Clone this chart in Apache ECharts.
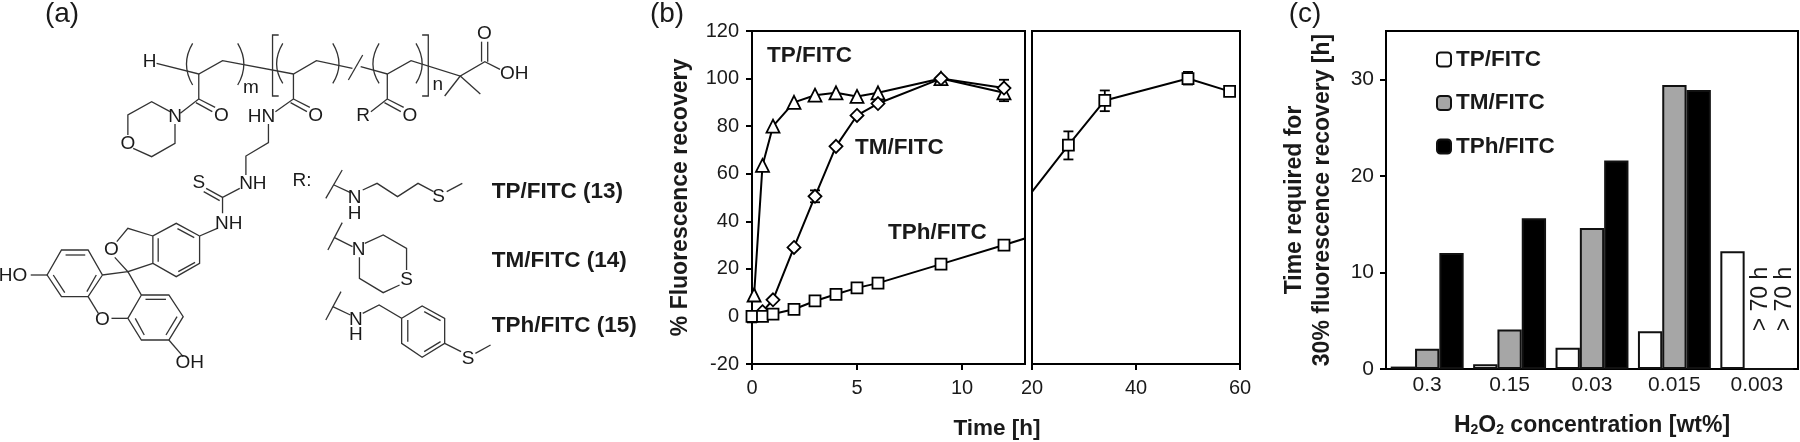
<!DOCTYPE html>
<html><head><meta charset="utf-8">
<style>html,body{margin:0;padding:0;background:#fff}#c{width:1800px;height:442px}</style>
<script src="https://cdn.jsdelivr.net/npm/echarts@6/dist/echarts.min.js"></script>
</head><body><div id="c"></div>
<script>
// ---- panel (b) data: [time h, % recovery]
const tpSeries  = [[0.1,9],[0.5,63.5],[1,80],[2,90],[3,93],[4,94],[5,92.5],[6,94],[9,100],[12,94]];
const tmSeries  = [[0.5,2],[1,7],[2,29],[3,50.5],[4,71.5],[5,84.5],[6,89.5],[9,100],[12,96]];
const tphSeries = [[0,0],[0.5,0],[1,1],[2,3],[3,6.5],[4,9.3],[5,12],[6,14],[9,22],[12,30],[27,72],[34,90.8],[50,100],[58,94.6]];
// error bars: [time, low, high]
const errLeft  = [[12,90.5,99.5],[3,48,53],[0,-2.5,2]];
const errRight = [[27,66,77.8],[34,86.3,95],[50,97.5,102.8]];
// ---- panel (c) data
const concentrations = ['0.3','0.15','0.03','0.015','0.003'];
const tpHours  = [0.25,0.5,2.2,3.9,12.2];
const tmHours  = [2.1,4.1,14.6,29.4,0];
const tphHours = [12,15.6,21.6,28.9,0];
const overLabel = '> 70 h';

const FONT = '"Liberation Sans", Arial, sans-serif';
const INK = '#1a1a1a';

// ---- panel (a) chemical structure (drawing space: x/2.44, y/3)
const bonds = [
 [[382,190],[485,222],[543,182],[716,222],[772,182],[860,205]],[[880,200],[945,222],[1003,182],[1123,228],[1183,185],[1220,208]],
 [[1175,185],[1175,125]],[[1190,185],[1190,125]],[[1123,228],[1085,288]],[[1123,228],[1172,282]],
 [[680,105],[665,105],[665,288],[680,288]],[[1030,105],[1045,105],[1045,288],[1030,288]],[[850,240],[885,165]],
 [[485,222],[485,297],[440,340]],[[485,297],[525,322]],[[478,308],[518,335]],
 [[415,335],[370,305],[312,345],[312,405]],[[325,445],[370,470],[427,430],[427,372]],
 [[716,222],[716,297],[672,335]],[[716,297],[756,322]],[[709,308],[749,335]],
 [[655,372],[655,428],[600,468],[600,525]],[[585,565],[543,592],[543,640]],[[543,592],[503,565]],[[536,602],[497,575]],[[530,685],[487,708]],
 [[945,222],[945,297],[905,335]],[[945,297],[985,322]],[[938,308],[978,335]],
 [[487,708],[430,670],[373,708],[373,790],[430,830],[487,790],[487,708]],[[433,686],[474,713]],[[386,715],[386,785]],[[435,815],[476,787]],
 [[373,708],[312,685],[285,725]],[[280,772],[312,815],[373,790]],[[312,815],[250,825],[215,750],[150,750],[115,825],[150,890],[215,890],[250,825]],
 [[115,825],[75,825]],[[215,890],[240,940]],[[272,955],[312,955]],[[312,815],[345,885],[412,885],[447,950],[412,1020],[345,1020],[312,955],[345,885]],[[412,1020],[447,1070]],
 [[160,765],[208,765]],[[130,825],[158,878]],[[235,825],[212,875]],[[355,898],[405,898]],[[432,950],[405,1005]],[[330,955],[352,1005]],
 [[795,595],[835,510]],[[815,555],[855,578]],[[885,570],[920,550],[970,590],[1020,550],[1058,575]],[[1090,575],[1128,550]],
 [[800,750],[835,668]],[[815,712],[860,740]],[[890,730],[935,705],[992,745],[992,810]],[[975,855],[935,878],[877,835],[877,772]],
 [[795,960],[832,875]],[[812,920],[855,945]],[[885,940],[925,915],[980,955],[1030,918],[1085,955],[1085,1030],[1030,1072],[980,1030],[980,955]],[[1085,1030],[1125,1055]],[[1160,1060],[1197,1035]],
 [[995,960],[995,1025]],[[1035,935],[1075,962]],[[1035,1055],[1075,1025]]
];
const parens = [[470,130,440,192,255],[580,130,610,192,255],[690,130,660,192,250],[812,130,842,192,250],[925,130,895,192,250],[1015,130,1045,192,250]];
const atoms = [['H',365,185],['m',612,262],['n',1068,255],['O',1182,100],['OH',1255,222],['O',540,348],['N',427,350],['O',312,430],
 ['HN',638,350],['O',770,348],['R',886,348],['O',1000,348],['NH',617,550],['S',485,548],['NH',558,670],['O',272,748],['HO',32,828],['O',250,960],['OH',463,1088],
 ['R:',737,543],['N',865,592],['H',865,640],['S',1070,590],['N',875,750],['S',992,838],['N',868,960],['H',868,1005],['S',1142,1075]];
const compoundLabels = [['TP/FITC (13)',1200,575],['TM/FITC (14)',1200,782],['TPh/FITC (15)',1200,977]];
const panelLetters = [['(a)',62,14],['(b)',667,14],['(c)',1305,14]];
const plotNotes = [['TP/FITC',767,56],['TM/FITC',855,148],['TPh/FITC',888,233]];

const sx = x => x/2.44, sy = y => y/3;
const g = [];
bonds.forEach(b => g.push({type:'polyline',silent:true,shape:{points:b.map(p=>[sx(p[0]),sy(p[1])])},style:{stroke:'#333',fill:null,lineWidth:1.3}}));
parens.forEach(p => g.push({type:'bezierCurve',silent:true,shape:{x1:sx(p[0]),y1:sy(p[1]),x2:sx(p[0]),y2:sy(p[4]),cpx1:sx(p[2]),cpy1:sy(p[3])},style:{stroke:'#333',fill:null,lineWidth:1.3}}));
const txt = (t,x,y,font,align) => ({type:'text',silent:true,x,y,style:{text:t,font,fill:INK,align:align||'center',verticalAlign:'middle'}});
atoms.forEach(a => g.push(txt(a[0],sx(a[1]),sy(a[2]),'19px '+FONT)));
compoundLabels.forEach(a => g.push(txt(a[0],sx(a[1]),sy(a[2]),'bold 22.5px '+FONT,'left')));
panelLetters.forEach(a => g.push(txt(a[0],a[1],a[2],'28px '+FONT)));
plotNotes.forEach(a => g.push(txt(a[0],a[1],a[2],'bold 22.5px '+FONT,'left')));
g.push(txt('Time [h]',997,429,'bold 22.5px '+FONT));

const errSeries = (name,idx,data) => ({type:'custom',name,xAxisIndex:idx,yAxisIndex:idx,z:1,clip:false,data,
  encode:{x:0,y:[1,2]},
  renderItem:(p,api)=>{
    const a=api.coord([api.value(0),api.value(1)]),b=api.coord([api.value(0),api.value(2)]);
    const st={stroke:'#000',lineWidth:1.8,fill:null},w=5;
    return {type:'group',children:[
      {type:'line',shape:{x1:a[0],y1:a[1],x2:b[0],y2:b[1]},style:st},
      {type:'line',shape:{x1:a[0]-w,y1:a[1],x2:a[0]+w,y2:a[1]},style:st},
      {type:'line',shape:{x1:b[0]-w,y1:b[1],x2:b[0]+w,y2:b[1]},style:st}]};
  }});
const lineSeries = (name,idx,data,symbol,size) => ({type:'line',name,xAxisIndex:idx,yAxisIndex:idx,data,symbol,symbolSize:size,clip:true,z:3,
  showAllSymbol:true,lineStyle:{color:'#000',width:2},itemStyle:{color:'#fff',borderColor:'#000',borderWidth:1.8,opacity:1}});
const barSeries = (name,data,color,label) => ({type:'bar',name,xAxisIndex:2,yAxisIndex:2,data,barGap:0,barCategoryGap:'11.5%',
  itemStyle:{color,borderColor:'#111',borderWidth:2},
  label:label?{show:true,position:'top',distance:69,rotate:90,offset:[0,4],fontSize:23,color:INK,fontFamily:FONT,align:'center',verticalAlign:'middle',
    formatter:p=>p.dataIndex===4?overLabel:''}:{show:false}});
const lab = {color:INK,fontFamily:FONT,fontSize:20};
const axLine = {show:true,onZero:false,lineStyle:{color:'#000',width:2}};
const tick = {show:true,length:6,lineStyle:{color:'#000',width:2}};

const option = {
 backgroundColor:'#fff',animation:false,graphic:{elements:g},
 textStyle:{fontFamily:FONT},
 legend:{left:1431,top:43,orient:'vertical',itemWidth:14,itemHeight:14,itemGap:20.5,selectedMode:false,
   textStyle:{fontFamily:FONT,fontWeight:'bold',fontSize:22.5,color:INK},
   data:['TP/FITC','TM/FITC','TPh/FITC']},
 grid:[
  {left:752,top:31,width:273,height:333,show:true,borderColor:'#000',borderWidth:2,backgroundColor:'transparent'},
  {left:1032,top:31,width:208,height:333,show:true,borderColor:'#000',borderWidth:2,backgroundColor:'transparent'},
  {left:1386,top:31,width:412,height:339,show:true,borderColor:'#000',borderWidth:2,backgroundColor:'transparent'}
 ],
 xAxis:[
  {type:'value',gridIndex:0,min:0,max:13,axisLine:axLine,axisTick:{...tick,customValues:[0,5,10]},splitLine:{show:false},axisLabel:{...lab,margin:14,customValues:[0,5,10]}},
  {type:'value',gridIndex:1,min:20,max:60,interval:20,axisLine:axLine,axisTick:tick,splitLine:{show:false},axisLabel:{...lab,margin:14}},
  {type:'category',gridIndex:2,data:concentrations,axisLine:axLine,axisTick:{show:false},axisLabel:{...lab,fontSize:21,margin:6},
    name:'H{s|2}O{s|2} concentration [wt%]',nameLocation:'middle',nameGap:45,
    nameTextStyle:{fontFamily:FONT,fontWeight:'bold',fontSize:23,color:INK,rich:{s:{fontFamily:FONT,fontWeight:'bold',fontSize:14,color:INK,verticalAlign:'bottom',padding:[9,0,0,0]}}}}
 ],
 yAxis:[
  {type:'value',gridIndex:0,min:-20,max:120,interval:20,axisLine:axLine,axisTick:tick,splitLine:{show:false},axisLabel:{...lab,margin:13},
    name:'% Fluorescence recovery',nameLocation:'middle',nameRotate:90,nameGap:60,nameTextStyle:{fontFamily:FONT,fontWeight:'bold',fontSize:23,color:INK}},
  {type:'value',gridIndex:1,min:-20,max:120,interval:20,axisLine:{show:false},axisTick:{show:false},axisLabel:{show:false},splitLine:{show:false}},
  {type:'value',gridIndex:2,min:0,max:35,axisLine:axLine,axisTick:{...tick,customValues:[0,10,20,30]},splitLine:{show:false},axisLabel:{...lab,fontSize:21,margin:12,customValues:[0,10,20,30]},
    name:'Time required for\n30% fluorescence recovery [h]',nameLocation:'middle',nameRotate:90,nameGap:49,nameTextStyle:{fontFamily:FONT,fontWeight:'bold',fontSize:23,lineHeight:28,color:INK}}
 ],
 series:[
  errSeries('errL',0,errLeft),errSeries('errR',1,errRight),
  lineSeries('TP',0,tpSeries,'triangle',13),lineSeries('TM',0,tmSeries,'diamond',13),lineSeries('TPh',0,tphSeries,'rect',11),
  lineSeries('TPh2',1,tphSeries,'rect',11),
  barSeries('TP/FITC',tpHours,'#fff',false),barSeries('TM/FITC',tmHours,'#a6a6a6',true),barSeries('TPh/FITC',tphHours,'#000',true)
 ]
};
echarts.init(document.getElementById('c'),null,{renderer:'canvas'}).setOption(option);
</script></body></html>
